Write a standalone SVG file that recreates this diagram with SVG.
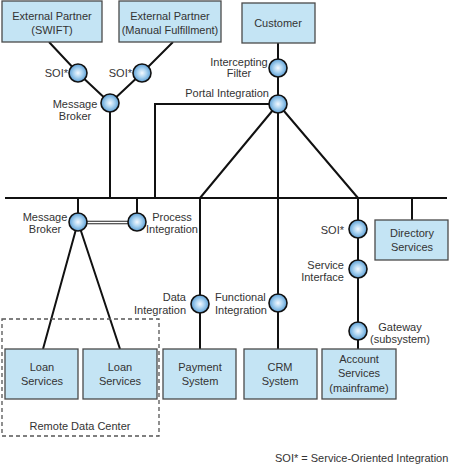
<svg xmlns="http://www.w3.org/2000/svg" width="450" height="470" viewBox="0 0 450 470">
<defs>
<radialGradient id="g" cx="50%" cy="50%" r="55%">
<stop offset="0" stop-color="#f4f9ff"/>
<stop offset="0.45" stop-color="#a9d2f0"/>
<stop offset="1" stop-color="#4d95d0"/>
</radialGradient>
<style>
.box{fill:#c4e4f4;stroke:#4a4a4a;stroke-width:1.3}
.t{font-family:"Liberation Sans",Arial,sans-serif;font-size:11px;fill:#333}
.c{text-anchor:middle}
.r{text-anchor:end}
.ln{stroke:#111;stroke-width:2;fill:none}
.nd{fill:url(#g);stroke:#111;stroke-width:1.6}
</style>
</defs>
<rect width="450" height="470" fill="#fff"/>

<g id="connectors">
<path class="ln" d="M5 198 H447"/>
<path class="ln" d="M49 42 L78 73 L110 103 M173 42 L142 73 L110 103 M110 103 V198"/>
<path class="ln" d="M278 43 V104 M278 104 H155 V198"/>
<path class="ln" d="M278 104 L200 198 M278 104 L358 198 M278 104 V349"/>
<path class="ln" d="M78 198 V222 M137 198 V222"/>
<path d="M78 222.5 H137" stroke="#222" stroke-width="3.6"/>
<path d="M78 222.5 H137" stroke="#fff" stroke-width="1.4"/>
<path class="ln" d="M78 222 L43 349 M78 222 L120 349"/>
<path class="ln" d="M200 198 V349"/>
<path class="ln" d="M358 198 V349"/>
<path class="ln" d="M412 198 V220"/>
</g>

<g id="remote-data-center">
<rect x="2" y="319" width="157" height="117" fill="none" stroke="#555" stroke-width="1.3" stroke-dasharray="4,3"/>
<text class="t c" x="80" y="430">Remote Data Center</text>
</g>

<g id="ext-swift">
<rect class="box" x="2" y="1" width="100" height="41"/>
<text class="t c" x="52" y="20">External Partner</text>
<text class="t c" x="52" y="34">(SWIFT)</text>
</g>
<g id="ext-manual">
<rect class="box" x="119" y="1" width="102" height="41"/>
<text class="t c" x="170" y="20">External Partner</text>
<text class="t c" x="170" y="34">(Manual Fulfillment)</text>
</g>
<g id="customer">
<rect class="box" x="242" y="3" width="73" height="40"/>
<text class="t c" x="278" y="27">Customer</text>
</g>

<g id="soi-left">
<circle class="nd" cx="78" cy="73" r="9"/>
<text class="t r" x="68" y="77">SOI*</text>
</g>
<g id="soi-right">
<circle class="nd" cx="142" cy="73" r="9"/>
<text class="t r" x="132" y="77">SOI*</text>
</g>
<g id="message-broker-top">
<circle class="nd" cx="110" cy="103" r="9"/>
<text class="t c" x="75" y="108">Message</text>
<text class="t c" x="75" y="120">Broker</text>
</g>
<g id="intercepting-filter">
<circle class="nd" cx="278" cy="68" r="9"/>
<text class="t c" x="239" y="66">Intercepting</text>
<text class="t c" x="239" y="77">Filter</text>
</g>
<g id="portal-integration">
<circle class="nd" cx="278" cy="104" r="9"/>
<text class="t r" x="269" y="97">Portal Integration</text>
</g>

<g id="message-broker">
<circle class="nd" cx="78" cy="222" r="9"/>
<text class="t c" x="45" y="221">Message</text>
<text class="t c" x="45" y="233">Broker</text>
</g>
<g id="process-integration">
<circle class="nd" cx="137" cy="222" r="9"/>
<text class="t c" x="172" y="221">Process</text>
<text class="t c" x="172" y="233">Integration</text>
</g>
<g id="data-integration">
<circle class="nd" cx="200" cy="304" r="9"/>
<text class="t r" x="186" y="301">Data</text>
<text class="t r" x="186" y="314">Integration</text>
</g>
<g id="functional-integration">
<circle class="nd" cx="278" cy="303" r="9"/>
<text class="t" x="215" y="301">Functional</text>
<text class="t" x="215" y="314">Integration</text>
</g>
<g id="soi-account">
<circle class="nd" cx="358" cy="229" r="9"/>
<text class="t r" x="344" y="234">SOI*</text>
</g>
<g id="service-interface">
<circle class="nd" cx="358" cy="269" r="9"/>
<text class="t r" x="344" y="269">Service</text>
<text class="t r" x="344" y="281">Interface</text>
</g>
<g id="gateway">
<circle class="nd" cx="358" cy="331" r="9"/>
<text class="t c" x="400" y="331">Gateway</text>
<text class="t c" x="400" y="343">(subsystem)</text>
</g>

<g id="directory-services">
<rect class="box" x="375" y="220" width="73" height="40"/>
<text class="t c" x="412" y="237">Directory</text>
<text class="t c" x="412" y="251">Services</text>
</g>

<g id="loan-services-1">
<rect class="box" x="5" y="349" width="73" height="50"/>
<text class="t c" x="42" y="371">Loan</text>
<text class="t c" x="42" y="385">Services</text>
</g>
<g id="loan-services-2">
<rect class="box" x="83" y="349" width="74" height="50"/>
<text class="t c" x="120" y="371">Loan</text>
<text class="t c" x="120" y="385">Services</text>
</g>
<g id="payment-system">
<rect class="box" x="163" y="349" width="73" height="50"/>
<text class="t c" x="200" y="371">Payment</text>
<text class="t c" x="200" y="385">System</text>
</g>
<g id="crm-system">
<rect class="box" x="244" y="349" width="73" height="50"/>
<text class="t c" x="280" y="371">CRM</text>
<text class="t c" x="280" y="385">System</text>
</g>
<g id="account-services">
<rect class="box" x="322" y="349" width="74" height="50"/>
<text class="t c" x="359" y="363">Account</text>
<text class="t c" x="359" y="377">Services</text>
<text class="t c" x="359" y="392">(mainframe)</text>
</g>

<text class="t" x="275" y="462">SOI* = Service-Oriented Integration</text>
</svg>
